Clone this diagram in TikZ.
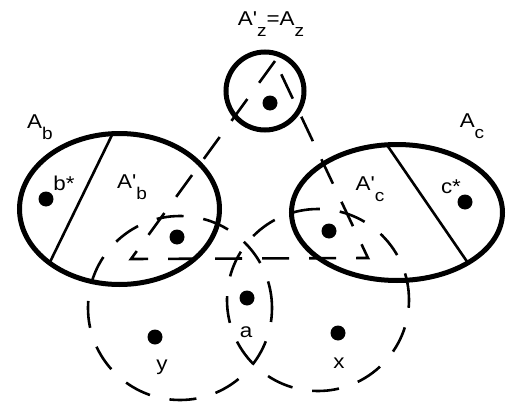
\documentclass[tikz,border=0pt]{standalone}
\usepackage{fontspec}
\setmainfont{Liberation Sans}[Ligatures=TeXOff, FakeStretch=1.12]
\usetikzlibrary{positioning}
\newcommand{\lsub}[1]{\raisebox{-11pt}{\fontsize{17}{17}\selectfont #1}}

\begin{document}
\begin{tikzpicture}[
    x=1pt, y=-1pt,
    region/.style={draw, line width=5pt},
    chord/.style={draw, line width=2.6pt},
    dashline/.style={draw, line width=2.6pt, dash pattern=on 27pt off 20pt},
    dot/.style={circle, fill, inner sep=0pt, minimum size=15pt},
    lbl/.style={font=\fontsize{20}{20}\selectfont, inner sep=0pt, anchor=base}
]
\useasboundingbox (0,0) rectangle (507,407);

% dashed outlines
\coordinate (apex) at (275,61);
\coordinate (baseL) at (131,259);
\coordinate (baseR) at (368,258);
\draw[dashline] (apex) -- (baseL) -- (baseR) -- cycle;
\draw[dashline] (180,308) circle[radius=92pt];
\draw[dashline] (318,300) circle[radius=91pt];

% solid regions
\draw[region] (265,91) circle[radius=39pt];
\draw[region] (119.5,209) circle[x radius=100pt, y radius=75.5pt];
\draw[region] (397,212.5) circle[x radius=105.5pt, y radius=68pt];
\draw[chord] (112,135) -- (50,262);
\draw[chord] (387,145) -- (468,263);

% points
\foreach \name/\pos in {zdot/{(270,103)}, bstar/{(46,199)}, bdot/{(177,237)},
    cdot/{(329,231)}, cstar/{(465,202)}, adot/{(247,298)},
    ydot/{(155,337)}, xdot/{(338,333)}} {
    \node[dot] (\name) at \pos {};
}

% labels
\node[lbl] (Az) at (271,25) {A'\lsub{z}=A\lsub{z}};
\node[lbl] (Ab) at (40,128) {A\lsub{b}};
\node[lbl] (Ac) at (472,127) {A\lsub{c}};
\node[lbl] (Abp) at (132,188) {A'\lsub{b}};
\node[lbl] (Acp) at (370,190) {A'\lsub{c}};
\node[lbl] (bs) at (64,190) {b*};
\node[lbl] (cs) at (451,193) {c*};
\node[lbl] (la) at (246,337) {a};
\node[lbl] (ly) at (162,370) {y};
\node[lbl] (lx) at (339,368) {x};
\end{tikzpicture}
\end{document}
